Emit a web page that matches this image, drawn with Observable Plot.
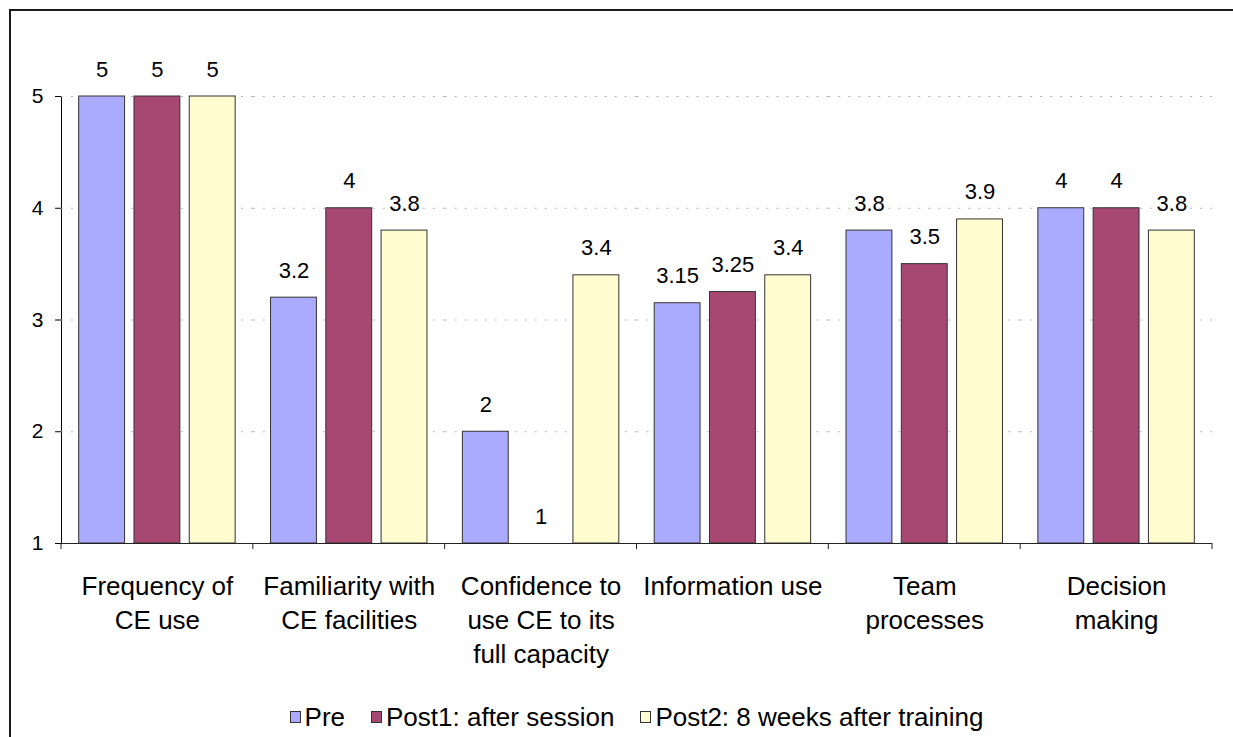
<!DOCTYPE html>
<html>
<head>
<meta charset="utf-8">
<script src="https://cdn.jsdelivr.net/npm/d3@7"></script>
<script src="https://cdn.jsdelivr.net/npm/@observablehq/plot@0.6"></script>
<style>
html, body { margin:0; padding:0; background:#fff; width:1233px; height:737px; overflow:hidden; font-family:"Liberation Sans", Arial, sans-serif; }
#frame { position:absolute; left:9px; top:9px; width:1400px; height:900px; border-left:2px solid #1a1a1a; border-top:2px solid #1a1a1a; }
#chart { position:absolute; left:0; top:0; }
#legend { position:absolute; left:61px; width:1151px; top:702px; height:30px; line-height:30px; display:flex; justify-content:center; align-items:center; font-size:26px; color:#000; gap:26px; }
.item { display:flex; align-items:center; }
.sw { width:9px; height:10px; border:1px solid #333; margin-right:4px; }
</style>
</head>
<body>
<div id="frame"></div>
<div id="chart"></div>
<div id="legend"></div>
<script>
const categories = ["Frequency of CE use", "Familiarity with CE facilities", "Confidence to use CE to its full capacity", "Information use", "Team processes", "Decision making"];
const categoryLines = ["Frequency of\nCE use", "Familiarity with\nCE facilities", "Confidence to\nuse CE to its\nfull capacity", "Information use", "Team\nprocesses", "Decision\nmaking"];
const series = ["Pre", "Post1: after session", "Post2: 8 weeks after training"];
const pre = [5, 3.2, 2, 3.15, 3.8, 4];
const post1 = [5, 4, 1, 3.25, 3.5, 4];
const post2 = [5, 3.8, 3.4, 3.4, 3.9, 3.8];
const yTicks = [1, 2, 3, 4, 5];
const colors = ["#AAAAFF", "#A64872", "#FFFDD0"];

const seriesValues = [pre, post1, post2];
const rows = categories.flatMap((c, i) => series.map((s, j) => ({cat: c, series: s, value: seriesValues[j][i]})));

const chart = Plot.plot({
  width: 1233,
  height: 680,
  marginTop: 96,
  marginBottom: 137,
  marginLeft: 61,
  marginRight: 21,
  style: {fontFamily: '"Liberation Sans", Arial, sans-serif', fontSize: "21px", color: "#000", background: "transparent"},
  fx: {domain: categories, padding: 0, round: false, axis: null},
  x: {domain: series, paddingInner: 0.17, paddingOuter: 0.32, round: false, axis: null},
  y: {domain: [1, 5], ticks: yTicks, tickFormat: d => String(d), tickSize: 6, tickPadding: 12, line: true, label: null},
  color: {domain: series, range: colors},
  marks: [
    Plot.ruleY(yTicks.slice(1), {stroke: "#b4b4b4", strokeDasharray: "2 8"}),
    Plot.barY(rows, {fx: "cat", x: "series", y1: 1, y2: "value", fill: "series", stroke: "#333", strokeWidth: 1}),
    Plot.ruleY([1], {stroke: "#222"}),
    Plot.text(rows, {fx: "cat", x: "series", y: "value", text: d => String(d.value), dy: -27, fontSize: 22}),
    Plot.text(categories, {fx: d => d, text: (d, i) => categoryLines[i], frameAnchor: "bottom", lineAnchor: "top", dy: 27, fontSize: 26, lineHeight: 1.31})
  ]
});
document.getElementById("chart").appendChild(chart);

// category boundary ticks on the bottom axis, from the library's fx and y scales
const fx = chart.scale("fx");
const ys = chart.scale("y");
const edges = fx.domain.map(c => fx.apply(c));
edges.push(fx.apply(fx.domain[fx.domain.length - 1]) + fx.bandwidth);
const y0 = ys.apply(1);
d3.select(chart).append("g")
  .selectAll("line").data(edges).join("line")
  .attr("x1", d => d).attr("x2", d => d)
  .attr("y1", y0).attr("y2", y0 + 6)
  .attr("stroke", "#222");

const legend = d3.select("#legend");
series.forEach((s, i) => {
  const item = legend.append("div").attr("class", "item");
  item.append("div").attr("class", "sw").style("background", colors[i]);
  item.append("span").text(s);
});
</script>
</body>
</html>
